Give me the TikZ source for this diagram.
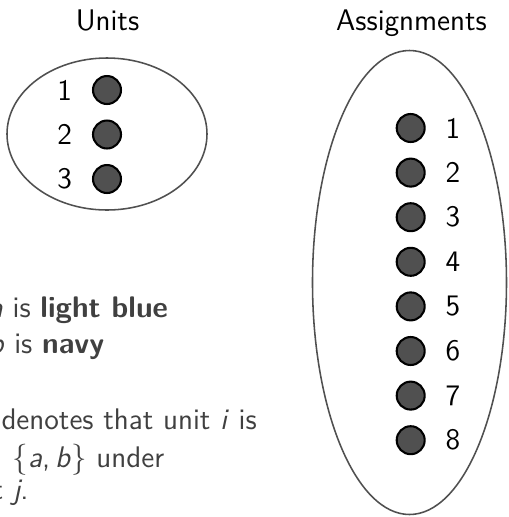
\documentclass[tikz,border=0pt]{standalone}
\usepackage{amsmath, amssymb}
\usepackage{tikz}
\usetikzlibrary{positioning}
\definecolor{dotgray}{HTML}{505050}
\definecolor{textgray}{HTML}{404040}

\begin{document}
\begin{tikzpicture}[
    x=0.386pt,
    y=-0.386pt,
    font=\fontsize{11.5}{14}\selectfont\sffamily,
    dot/.style={
        circle,
        fill=dotgray,
        draw=black,
        line width=0.8pt,
        minimum size=10.8pt,
        inner sep=0pt
    },
    numlabel/.style={
        inner sep=0pt,
        text=black
    },
    title/.style={
        anchor=base,
        inner sep=0pt,
        text=black
    },
    bodytext/.style={
        anchor=base west,
        inner sep=0pt,
        text=textgray
    },
    group/.style={
        draw=dotgray,
        line width=0.6pt
    }
]
\useasboundingbox (0,0) rectangle (508,517);
\clip (0,0) rectangle (508,517);

% Titles
\node[title] (unitsT) at (107.5,30) {Units};
\node[title] (assignT) at (411.5,30) {Assignments};

% Groups
\draw[group] (107,134) ellipse [x radius=100, y radius=76];
\draw[group] (409.5,282.5) ellipse [x radius=97, y radius=232];

% Units
\node[dot] (u1) at (107,90) {};
\node[numlabel, left=7.5pt of u1] {1};
\node[dot] (u2) at (107,134.5) {};
\node[numlabel, left=7.5pt of u2] {2};
\node[dot] (u3) at (107,179) {};
\node[numlabel, left=7.5pt of u3] {3};

% Assignments
\node[dot] (s1) at (410.7,128) {};
\node[numlabel, right=7.5pt of s1] {1};
\node[dot] (s2) at (410.7,172.6) {};
\node[numlabel, right=7.5pt of s2] {2};
\node[dot] (s3) at (410.7,217.2) {};
\node[numlabel, right=7.5pt of s3] {3};
\node[dot] (s4) at (410.7,261.8) {};
\node[numlabel, right=7.5pt of s4] {4};
\node[dot] (s5) at (410.7,306.4) {};
\node[numlabel, right=7.5pt of s5] {5};
\node[dot] (s6) at (410.7,351) {};
\node[numlabel, right=7.5pt of s6] {6};
\node[dot] (s7) at (410.7,395.6) {};
\node[numlabel, right=7.5pt of s7] {7};
\node[dot] (s8) at (410.7,440.2) {};
\node[numlabel, right=7.5pt of s8] {8};

% Legend text (cut at the left edge)
\node[bodytext] (lineA) at (-12,317) {\textit{a} is \textbf{light blue}};
\node[bodytext] (lineB) at (-12,353) {\textit{b} is \textbf{navy}};
\node[bodytext] (lineC) at (1,429) {denotes that unit \textit{i} is};
\node[bodytext] (lineD) at (12,467) {$\{$\textit{a},\thinspace\textit{b}$\}$ under};
\node[bodytext] (lineE) at (-8,499) {t \textit{j}.};

\end{tikzpicture}
\end{document}
